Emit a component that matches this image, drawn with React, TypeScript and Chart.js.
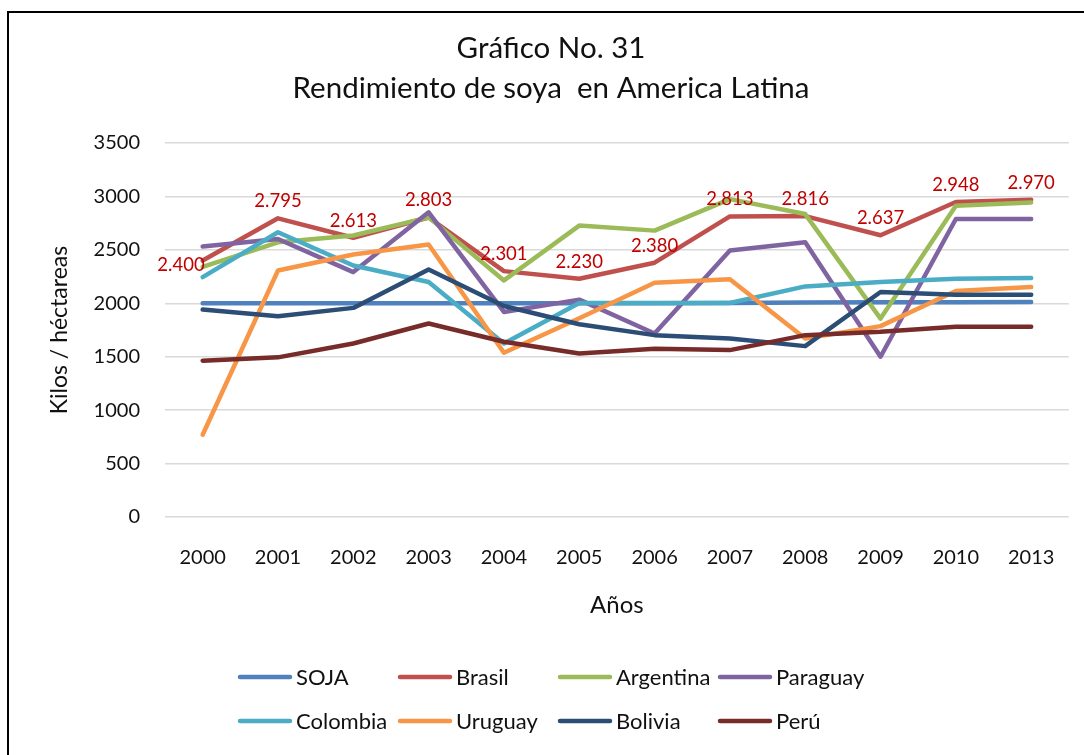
import React, { useEffect, useRef } from "react";
import { Chart, registerables } from "chart.js";

Chart.register(...registerables);

const categories = ["2000", "2001", "2002", "2003", "2004", "2005", "2006", "2007", "2008", "2009", "2010", "2013"];

const soja = [2000, 2000, 2000, 2000, 2000, 2000, 2000, 2003, 2008, 2010, 2010, 2012];
const brasil = [2400, 2795, 2613, 2803, 2301, 2230, 2380, 2813, 2816, 2637, 2948, 2970];
const argentina = [2340, 2571, 2634, 2804, 2214, 2727, 2680, 2975, 2835, 1857, 2913, 2944];
const paraguay = [2531, 2602, 2292, 2851, 1919, 2034, 1717, 2494, 2571, 1500, 2789, 2789];
const colombia = [2245, 2665, 2354, 2199, 1624, 2003, 2003, 2003, 2158, 2199, 2230, 2236];
const uruguay = [770, 2307, 2457, 2550, 1537, 1860, 2193, 2224, 1671, 1786, 2115, 2152];
const bolivia = [1941, 1879, 1957, 2317, 1975, 1804, 1702, 1671, 1599, 2106, 2081, 2081];
const peru = [1463, 1494, 1624, 1811, 1640, 1531, 1574, 1562, 1702, 1733, 1780, 1780];

const seriesNames = ["SOJA", "Brasil", "Argentina", "Paraguay", "Colombia", "Uruguay", "Bolivia", "Perú"];
const seriesValues = [soja, brasil, argentina, paraguay, colombia, uruguay, bolivia, peru];
const seriesColors = ["#4F81BD", "#C0504D", "#9BBB59", "#8064A2", "#4BACC6", "#F79646", "#2C4D75", "#772C2A"];

const yMin = 0;
const yMax = 3500;
const yStep = 500;

const chartTitle = ["Gráfico No. 31", "Rendimiento de soya  en America Latina"];
const xAxisTitle = "Años";
const yAxisTitle = "Kilos / héctareas";
const labeledSeries = "Brasil";

const TEXT = "#111111";
const FONT = "Lato, 'Noto Sans', sans-serif";

function fmt(v: number): string {
  const s = String(Math.round(v));
  return s.replace(/\B(?=(\d{3})+(?!\d))/g, ".");
}

const dataLabelPlugin = {
  id: "dataLabels",
  afterDatasetsDraw(chart: any) {
    const idx = chart.data.datasets.findIndex((d: any) => d.label === labeledSeries);
    if (idx < 0) return;
    const meta = chart.getDatasetMeta(idx);
    const values = chart.data.datasets[idx].data as number[];
    const ctx = chart.ctx;
    ctx.save();
    ctx.font = `18.5px ${FONT}`;
    ctx.fillStyle = "#C00000";
    ctx.textBaseline = "middle";
    meta.data.forEach((pt: any, i: number) => {
      const text = fmt(values[i]);
      if (i === 0) {
        ctx.textAlign = "right";
        ctx.fillText(text, pt.x + 2, pt.y + 4);
      } else {
        ctx.textAlign = "center";
        ctx.fillText(text, pt.x, pt.y - 17);
      }
    });
    ctx.restore();
  },
};

const legendPlugin = {
  id: "gridLegend",
  afterDraw(chart: any) {
    const ctx = chart.ctx;
    const left = 240;
    const colW = 160;
    const rowTop = 677;
    const rowH = 44;
    ctx.save();
    ctx.font = `22px ${FONT}`;
    ctx.textBaseline = "middle";
    ctx.textAlign = "left";
    chart.data.datasets.forEach((ds: any, i: number) => {
      const col = i % 4;
      const row = Math.floor(i / 4);
      const x = left + col * colW;
      const y = rowTop + row * rowH;
      ctx.strokeStyle = ds.borderColor;
      ctx.lineWidth = 4.5;
      ctx.lineCap = "round";
      ctx.beginPath();
      ctx.moveTo(x, y);
      ctx.lineTo(x + 50, y);
      ctx.stroke();
      ctx.fillStyle = TEXT;
      ctx.fillText(ds.label, x + 56, y + 1);
    });
    ctx.restore();
  },
};

export default function App() {
  const ref = useRef<HTMLCanvasElement | null>(null);

  useEffect(() => {
    if (!ref.current) return;
    const n = seriesNames.length;
    const chart = new Chart(ref.current, {
      type: "line",
      data: {
        labels: categories,
        datasets: seriesNames.map((name, i) => ({
          label: name,
          data: seriesValues[i],
          borderColor: seriesColors[i],
          backgroundColor: seriesColors[i],
          borderWidth: 4.5,
          borderCapStyle: "round" as const,
          borderJoinStyle: "round" as const,
          pointRadius: 0,
          pointHoverRadius: 0,
          tension: 0,
          fill: false,
          order: n - i,
        })),
      },
      options: {
        responsive: false,
        animation: false,
        devicePixelRatio: 1,
        layout: { padding: { left: 33, right: 15, top: 0, bottom: 125 } },
        plugins: {
          legend: { display: false },
          tooltip: { enabled: false },
          title: {
            display: true,
            text: chartTitle,
            color: TEXT,
            font: { family: FONT, size: 29.5, weight: "normal", lineHeight: 40 / 29.5 },
            padding: { top: 28, bottom: 35 },
          },
        },
        scales: {
          x: {
            offset: true,
            grid: { display: false, drawTicks: false },
            border: { display: false },
            ticks: { color: TEXT, font: { family: FONT, size: 20 }, padding: 29, maxRotation: 0 },
            title: {
              display: true,
              text: xAxisTitle,
              color: TEXT,
              font: { family: FONT, size: 24 },
              padding: { top: 10, bottom: 10 },
            },
            afterFit(scale: any) {
              scale.height = 113;
            },
          },
          y: {
            min: yMin,
            max: yMax,
            ticks: {
              stepSize: yStep,
              color: TEXT,
              font: { family: FONT, size: 20 },
              padding: 25,
              callback: (v: any) => String(v),
            },
            grid: { color: "#D9D9D9", lineWidth: 1.5, drawTicks: false },
            border: { display: false },
            title: {
              display: true,
              text: yAxisTitle,
              color: TEXT,
              font: { family: FONT, size: 23 },
              padding: { top: 13, bottom: 13 },
            },
            afterFit(scale: any) {
              scale.width = 132;
            },
          },
        },
      },
      plugins: [dataLabelPlugin, legendPlugin],
    });
    return () => chart.destroy();
  }, []);

  return (
    <div style={{ position: "absolute", left: 0, top: 0, width: 1084, height: 755, overflow: "hidden", background: "#fff" }}>
      <canvas ref={ref} width={1084} height={755} style={{ display: "block", width: 1084, height: 755 }} />
      <div
        style={{
          position: "absolute",
          left: 7,
          top: 11,
          width: 1200,
          height: 900,
          border: "2px solid #000",
          pointerEvents: "none",
        }}
      />
    </div>
  );
}
